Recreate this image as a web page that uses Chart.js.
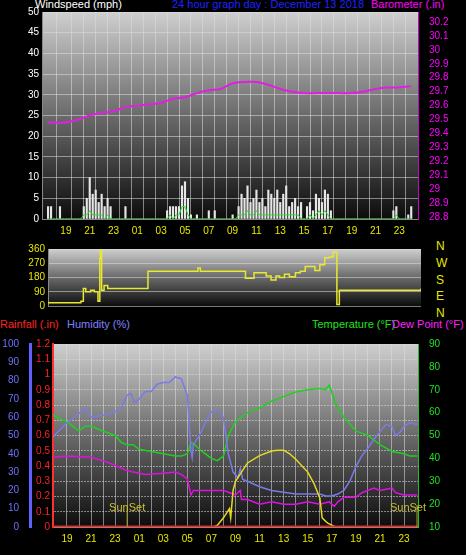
<!DOCTYPE html>
<html><head><meta charset="utf-8">
<script src="https://cdn.jsdelivr.net/npm/chart.js@4.4.1/dist/chart.umd.min.js"></script>
<style>
body{margin:0;background:#000;width:466px;height:555px;overflow:hidden;position:relative;font-family:"Liberation Sans",Arial,sans-serif}
canvas{position:absolute;left:0}
.t{position:absolute;font-size:11px;white-space:nowrap}
</style></head><body>
<div class="t" style="left:35px;top:-2px;color:#fff">Windspeed (mph)</div>
<div class="t" style="left:172px;top:-2px;color:#2020ff">24 hour graph day : December 13 2018</div>
<div class="t" style="left:371px;top:-2px;color:#ff00ff">Barometer (.in)</div>
<div class="t" style="left:436px;top:238px;color:#e8e800;font-size:12px;line-height:16.8px">N<br>W<br>S<br>E<br>N</div>
<div class="t" style="left:0;top:318px;color:#ff2020">Rainfall (.in)</div>
<div class="t" style="left:67px;top:318px;color:#8080ff">Humidity (%)</div>
<div class="t" style="left:312px;top:318px;color:#20e020">Temperature (°F)</div>
<div class="t" style="left:392px;top:318px;color:#ff20ff">Dew Point (°F)</div>
<canvas id="c1" width="466" height="240" style="top:0"></canvas>
<canvas id="c2" width="466" height="75" style="top:240px"></canvas>
<canvas id="c3" width="466" height="220" style="top:335px"></canvas>
<script>
// hours are counted from midnight of Dec 12 (24 = 00 on Dec 13)
const baroT = [17.5,19,20,21,22,23,24,25,26,27,28,29,30,31,32,33,34,35,36,37,38,39,40,41,42,43,44,45,46,47,48];
const baroV = [29.48,29.48,29.5,29.53,29.55,29.56,29.59,29.6,29.61,29.62,29.65,29.66,29.69,29.71,29.72,29.76,29.77,29.77,29.75,29.72,29.7,29.69,29.69,29.69,29.69,29.69,29.7,29.72,29.73,29.73,29.74];

const windStart = 17.5, windStep = 0.25;
const gust = [
 3,3,0,0, 3,0,0,0, 0,0,0,0, 3,5,10,6, 7,4,6,3, 5,3,0,0, 0,0,3,0, 0,0,0,0,
 0,0,0,0, 0,0,0,0, 2,3,3,3, 3,8,9,5, 1,0,1,0, 0,0,2,0, 2,0,0,0, 0,0,1,0,
 3,6,5,8, 4,5,7,4, 5,3,7,6, 5,7,4,6, 8,3,4,5, 3,4,0,3, 4,2,6,5, 4,7,6,2,
 0,0,0,0, 0,0,0,0, 0,0,0,0, 0,0,0,0, 0,0,0,0, 2,3,0,0, 0,1,3];
const avg = [
 0,0,0,0, 0,0,0,0, 0,0,0,0, 1,1,2,1, 1,1,1,0, 1,0,0,0, 0,0,0,0, 0,0,0,0,
 0,0,0,0, 0,0,0,0, 0,1,0,1, 1,3,3,1, 0,0,0,0, 0,0,0,0, 0,0,0,0, 0,0,0,0,
 1,1,1,2, 1,1,2,1, 1,1,1,1, 1,1,1,1, 1,1,1,1, 1,0,0,0, 1,0,1,2, 1,2,1,0,
 0,0,0,0, 0,0,0,0, 0,0,0,0, 0,0,0,0, 0,0,0,0, 0,1,0,0, 0,0,0];

const dirT = [17.5,20.2,20.4,20.6,21,21.3,21.6,21.75,21.8,21.9,22.1,22.4,22.7,25.6,25.7,29.6,29.8,30,33.6,33.7,34.3,34.4,35,35.4,35.8,36.2,36.5,36.9,37.3,37.8,38.2,38.6,38.9,39.4,39.8,40.2,40.6,40.9,41.1,41.2,41.4,48.1];
const dirV = [20,30,110,90,100,90,30,300,355,100,130,110,110,110,220,220,240,220,220,175,175,210,210,190,165,190,180,200,185,210,220,250,250,225,260,305,310,340,340,10,100,110];

const humT = [17.8,19,20,20.5,21,22,23,23.5,24,24.3,24.6,25,25.5,26,26.5,27,27.5,28,28.5,29,29.3,29.4,29.5,30,30.5,31,31.5,32,32.4,32.8,33.2,33.4,33.6,34,35,36,37,38,39,40,40.5,41,41.5,42,42.5,43,43.5,44,44.5,45,45.5,46,46.3,46.7,47,47.5,48.1];
const humV = [49,57,62,65,60,61,63,65,72,73,68,70,74,74,78,79,79,82,81,72,42,38,45,50,57,63,64,60,40,30,27,32,26,25,22,20,19,18,18,18,17,17,18,20,25,33,39,43,48,52,56,55,50,52,55,57,56];

const tempT = [17.8,18.5,19,19.5,20,20.5,21,22,23,23.5,24,24.5,25,26,27,28,28.5,29,29.3,29.6,30,30.5,31,31.5,32,32.4,33,33.5,34,35,36,37,38,39,40,40.5,40.8,41.3,42,43,44,45,46,47,47.5,48.1];
const tempV = [59,57,56,54,52,54,54,52,50,47,46,46,44,43,42,41,41,42,47,46,44,42,40,39,41,50,56,58,60,62,65,67,69,70,70.5,70,72,64,58,52,50,46,43,42,41,41];

const dewT = [17.8,19,21,22,23,23.8,24.5,25.5,27,28,28.5,29,29.3,29.5,30,31,32,32.5,33,33.4,33.5,34,35,36,37,38,39,40,40.8,41.2,41.5,42,43,43.5,44,44.5,45,46,46.3,47,48.1];
const dewV = [40.5,41,40.5,39,37,35,34,33,33.5,34,33,31,24,26,26,26,26,25,24,26,22,22,20,21,20,20,21,20,21,19,21,23,23,25,26,27,26,27,25,24,24];

const solarT = [17.8,31.2,31.5,32,32.5,32.6,32.8,33,33.5,34,35,36,36.5,37,37.5,38,39,39.5,40,40.2,40.5,40.7,41,41.3,48.1];
const solarV = [0,0,1,5,10,5,20,25,30,35,39,41.5,42,42,40,37,30,24,16,5,3,2,1,0,0];

const sunsetT = [24.0, 48.1];
const baroTicks = [28.8,28.9,29,29.1,29.2,29.3,29.4,29.5,29.6,29.7,29.8,29.9,30,30.1,30.2];

const hourLabel = v => (Number.isInteger(v) && v % 2 === 1) ? String(v % 24).padStart(2, '0') : '';

const bgPlugin = {
  id: 'bg',
  beforeDraw(ch) {
    const a = ch.chartArea, c = ch.ctx;
    const g = c.createLinearGradient(0, a.top, 0, a.bottom);
    g.addColorStop(0, '#cfcfcf'); g.addColorStop(0.5, '#6a6a6a'); g.addColorStop(1, '#0c0c0c');
    c.save(); c.fillStyle = g; c.fillRect(a.left, a.top, a.right - a.left, a.bottom - a.top); c.restore();
  }
};
const sunsetPlugin = {
  id: 'sunset',
  afterDatasetsDraw(ch) {
    const c = ch.ctx, x = ch.scales.x, a = ch.chartArea;
    c.save(); c.strokeStyle = '#a0a020'; c.fillStyle = '#c8c030'; c.font = '11px "Liberation Sans"'; c.textAlign = 'center';
    sunsetT.forEach(t => {
      const px = Math.min(x.getPixelForValue(t), a.right - 1);
      c.beginPath(); c.moveTo(px, a.bottom); c.lineTo(px, a.bottom - 22); c.stroke();
      c.fillText('SunSet', Math.min(px, a.right - 10), a.bottom - 16);
    });
    c.restore();
  }
};

const grid = { color: 'rgba(220,220,220,0.55)', borderDash: [1, 2], drawTicks: false };
const pts = (t, v) => t.map((x, i) => ({ x, y: v[i] }));
const fixW = w => function (s) { s.width = w; };
const fixH = h => function (s) { s.height = h; };
const base = { responsive: false, animation: false, plugins: { legend: { display: false }, tooltip: { enabled: false } } };
const font = { family: 'Liberation Sans', size: 10 };
const windT = gust.map((_, i) => windStart + i * windStep);

new Chart(document.getElementById('c1'), {
  data: { datasets: [
    { type: 'line', data: pts(baroT, baroV), yAxisID: 'yb', borderColor: '#e020e0', borderWidth: 2, pointRadius: 0, tension: 0.3 },
    { type: 'line', data: pts(windT, avg), yAxisID: 'y', borderColor: '#20e020', borderWidth: 1, pointRadius: 0 },
    { type: 'bar', data: pts(windT, gust), yAxisID: 'y', backgroundColor: '#e6e6e6', barThickness: 1.5 }
  ] },
  options: { ...base, layout: { padding: { top: 12 } },
    scales: {
      x: { type: 'linear', min: 17.5, max: 48.06, afterFit: fixH(21), grid, border: { color: '#888' },
        ticks: { stepSize: 1, autoSkip: false, callback: hourLabel, color: '#e8e800', font, padding: 6, maxRotation: 0 } },
      y: { min: 0, max: 50, afterFit: fixW(42), grid, border: { color: '#888' }, ticks: { stepSize: 5, color: '#fff', font } },
      yb: { position: 'right', min: 28.79, max: 30.27, afterFit: fixW(48), grid: { display: false }, border: { color: '#c0c' },
        ticks: { color: '#ff00ff', font, autoSkip: false, callback: v => String(Math.round(v * 10) / 10) },
        afterBuildTicks: s => { s.ticks = baroTicks.map(value => ({ value })); } }
    } },
  plugins: [bgPlugin]
});

new Chart(document.getElementById('c2'), {
  type: 'line',
  data: { datasets: [{ data: pts(dirT, dirV), borderColor: '#e8e830', borderWidth: 1.5, pointRadius: 0, stepped: true }] },
  options: { ...base, layout: { padding: { top: 7, bottom: 5, right: 45 } },
    scales: {
      x: { type: 'linear', min: 17.5, max: 48.1, display: false },
      y: { min: 0, max: 360, afterFit: fixW(48), grid, border: { color: '#888' }, ticks: { stepSize: 90, color: '#e8e800', font } }
    } },
  plugins: [bgPlugin]
});

new Chart(document.getElementById('c3'), {
  type: 'line',
  data: { datasets: [
    { data: pts([17.84, 48.16], [0, 0]), yAxisID: 'yr', borderColor: '#ff2020', borderWidth: 3, pointRadius: 0 },
    { data: pts(solarT, solarV), yAxisID: 'yh', borderColor: '#e8d820', borderWidth: 1.5, pointRadius: 0 },
    { data: pts(humT, humV), yAxisID: 'yh', borderColor: '#7a7ae8', borderWidth: 1.5, pointRadius: 0 },
    { data: pts(tempT, tempV), yAxisID: 'yt', borderColor: '#20d020', borderWidth: 1.5, pointRadius: 0 },
    { data: pts(dewT, dewV), yAxisID: 'yt', borderColor: '#e010e0', borderWidth: 1.5, pointRadius: 0 }
  ] },
  options: { ...base, layout: { padding: { top: 6 } },
    scales: {
      x: { type: 'linear', min: 17.84, max: 48.16, afterFit: fixH(28), grid, border: { color: '#888' },
        ticks: { stepSize: 1, autoSkip: false, callback: hourLabel, color: '#e8e800', font, padding: 6, maxRotation: 0 } },
      yr: { position: 'left', min: 0, max: 1.2, afterFit: fixW(23), grid, border: { color: '#ff3030', dash: [2, 1], width: 2 },
        ticks: { stepSize: 0.1, color: '#ff2020', font, callback: v => String(Math.round(v * 10) / 10) } },
      yh: { position: 'left', min: 0, max: 100, afterFit: fixW(30), grid: { display: false }, border: { color: '#6060ff', width: 3 },
        ticks: { stepSize: 10, color: '#7070ff', font } },
      yt: { position: 'right', min: 10, max: 90, afterFit: fixW(48), grid: { display: false }, border: { color: '#20c020' },
        ticks: { stepSize: 10, color: '#20e020', font } }
    } },
  plugins: [bgPlugin, sunsetPlugin]
});
</script>
</body></html>
